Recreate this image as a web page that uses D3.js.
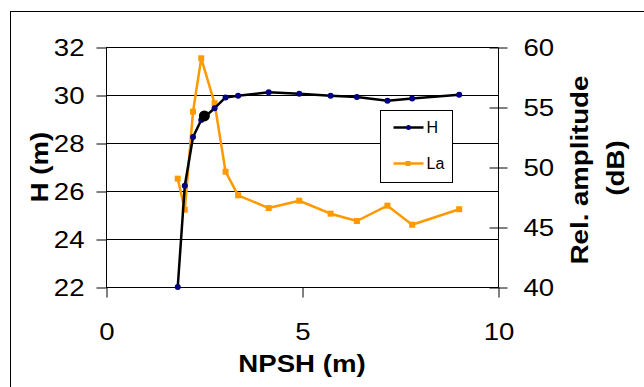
<!DOCTYPE html>
<html><head><meta charset="utf-8">
<script src="https://cdn.jsdelivr.net/npm/d3@7"></script>
<style>body{margin:0;background:#fff}svg{display:block}text{font-family:"Liberation Sans",Arial,sans-serif}</style>
</head><body><svg id="c" width="644" height="387"></svg>
<script>
const npsh = [1.83, 2.01, 2.22, 2.43, 2.77, 3.05, 3.37, 4.15, 4.93, 5.73, 6.40, 7.18, 7.81, 9.01];
const hValues = [22.0, 26.22, 28.25, 28.96, 29.45, 29.9, 29.97, 30.11, 30.05, 29.97, 29.92, 29.76, 29.85, 30.01];
const laValues = [49.03, 46.44, 54.61, 59.06, 55.31, 49.61, 47.64, 46.58, 47.19, 46.11, 45.5, 46.78, 45.19, 46.48];
const highlight = [{x: 2.51, h: 29.13}];
const xTicks = [0, 5, 10];
const hTicks = [22, 24, 26, 28, 30, 32];
const laTicks = [40, 45, 50, 55, 60];
const seriesNames = ["H", "La"];

const svg = d3.select("#c");
const L = 106, R = 498, T = 47, B = 287;
const SX = 1.15;
const x = d3.scaleLinear().domain([0, 10]).range([L, R]);
const y = d3.scaleLinear().domain([22, 32]).range([B, T]);
const y2 = d3.scaleLinear().domain([40, 60]).range([B, T]);

svg.append("rect").attr("x", 10.5).attr("y", 11.5).attr("width", 700).attr("height", 500)
  .attr("fill", "none").attr("stroke", "#000").attr("stroke-width", 1);

svg.append("g").selectAll("line").data(hTicks).join("line")
  .attr("x1", L).attr("x2", R).attr("y1", d => Math.round(y(d)) + 0.5).attr("y2", d => Math.round(y(d)) + 0.5)
  .attr("stroke", "#000").attr("stroke-width", 1);

const gl = svg.append("g").attr("transform", `translate(${L + 0.5},0.5)`)
  .call(d3.axisLeft(y).tickValues(hTicks).tickSize(10).tickPadding(12).tickFormat(d3.format("d")));
const gr = svg.append("g").attr("transform", `translate(${R + 0.5},0.5)`)
  .call(d3.axisRight(y2).tickValues(laTicks).tickSize(9).tickPadding(16).tickFormat(d3.format("d")));
gr.selectAll(".tick line").attr("x1", -9);
const gb = svg.append("g").attr("transform", `translate(0.5,${B + 0.5})`)
  .call(d3.axisBottom(x).tickValues(xTicks).tickSize(10).tickPadding(25).tickFormat(d3.format("d")));
[gl, gr, gb].forEach(g => {
  g.select(".domain").attr("stroke", "#000").attr("stroke-width", 1);
  g.selectAll(".tick line").attr("stroke", "#000");
  g.selectAll(".tick text").attr("fill", "#000").style("font-size", "24px").each(function () {
    const t = d3.select(this);
    const tx = +t.attr("x") || 0, ty = +t.attr("y") || 0;
    t.attr("x", 0).attr("y", 0).attr("transform", `translate(${tx},${ty}) scale(${SX},1)`);
  });
});
gl.select(".domain").attr("d", `M0,${T}V${B}`);
gr.select(".domain").attr("d", `M0,${T}V${B}`);
gb.select(".domain").attr("d", `M${L},0H${R}`);

const ptsH = npsh.map((v, i) => [v, hValues[i]]);
const ptsLa = npsh.map((v, i) => [v, laValues[i]]);

svg.append("path").datum(ptsLa)
  .attr("d", d3.line().x(d => x(d[0])).y(d => y2(d[1])))
  .attr("fill", "none").attr("stroke", "#FF9900").attr("stroke-width", 2.5).attr("stroke-linejoin", "round");
svg.append("g").selectAll("rect").data(ptsLa).join("rect")
  .attr("x", d => x(d[0]) - 3).attr("y", d => y2(d[1]) - 3).attr("width", 6).attr("height", 6)
  .attr("fill", "#FF9900");

svg.append("path").datum(ptsH)
  .attr("d", d3.line().x(d => x(d[0])).y(d => y(d[1])))
  .attr("fill", "none").attr("stroke", "#000").attr("stroke-width", 2.5).attr("stroke-linejoin", "round");
svg.append("g").selectAll("circle").data(ptsH).join("circle")
  .attr("cx", d => x(d[0])).attr("cy", d => y(d[1])).attr("r", 3).attr("fill", "#000080");
svg.append("g").selectAll("circle").data(highlight).join("circle")
  .attr("cx", d => x(d.x)).attr("cy", d => y(d.h)).attr("r", 5.5).attr("fill", "#000");

const lg = svg.append("g").attr("transform", "translate(380.5,110.5)");
lg.append("rect").attr("width", 72).attr("height", 72).attr("fill", "#fff").attr("stroke", "#000").attr("stroke-width", 1);
const colors = ["#000", "#FF9900"];
const mcolors = ["#000080", "#FF9900"];
seriesNames.forEach((n, i) => {
  const yy = 17 + i * 36;
  lg.append("line").attr("x1", 13).attr("x2", 43).attr("y1", yy).attr("y2", yy).attr("stroke", colors[i]).attr("stroke-width", 2.5);
  if (i === 0) lg.append("circle").attr("cx", 28).attr("cy", yy).attr("r", 2.5).attr("fill", mcolors[i]);
  else lg.append("rect").attr("x", 25).attr("y", yy - 2.5).attr("width", 5).attr("height", 5).attr("fill", mcolors[i]);
  lg.append("text").attr("x", 46).attr("y", yy).attr("dy", "0.35em").style("font-size", "16px").text(n);
});

function title(tx, ty, rot, txt) {
  svg.append("text").attr("transform", `translate(${tx},${ty}) rotate(${rot}) scale(${SX},1)`)
    .attr("dy", "0.35em").attr("text-anchor", "middle")
    .style("font-size", "24px").style("font-weight", "bold").text(txt);
}
title(302, 364, 0, "NPSH (m)");
title(40, 167, -90, "H (m)");
title(580, 170, -90, "Rel. amplitude");
title(616, 168, -90, "(dB)");
</script></body></html>
